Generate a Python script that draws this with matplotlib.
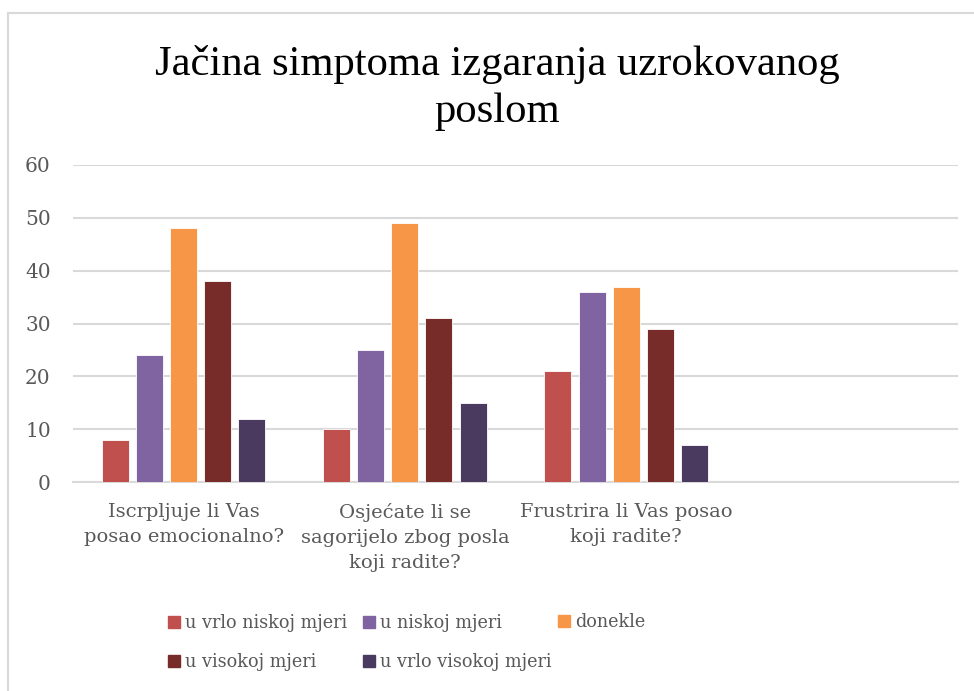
import numpy as np
import matplotlib.pyplot as plt
from matplotlib.lines import Line2D

# chart data
questions = ["Iscrpljuje li Vas\nposao emocionalno?",
             "Osjećate li se\nsagorijelo zbog posla\nkoji radite?",
             "Frustrira li Vas posao\nkoji radite?",
             ""]
levels = ["u vrlo niskoj mjeri", "u niskoj mjeri", "donekle",
          "u visokoj mjeri", "u vrlo visokoj mjeri"]
vrlo_nisko = [8, 10, 21]
nisko = [24, 25, 36]
donekle = [48, 49, 37]
visoko = [38, 31, 29]
vrlo_visoko = [12, 15, 7]
series = [vrlo_nisko, nisko, donekle, visoko, vrlo_visoko]
colors = ["#C0504D", "#8064A2", "#F79646", "#772C2A", "#4B3A60"]

text_color = "#595959"
label_font = "DejaVu Serif"

fig = plt.figure(figsize=(9.74, 6.91), dpi=100)
ax = fig.add_axes([73 / 974, 1 - 482 / 691, 885 / 974, 317 / 691])

x = np.arange(len(questions))
pitch = 0.154
width = 0.122
for i, (vals, col) in enumerate(zip(series, colors)):
    pos = x[:len(vals)] + (i - 2) * pitch
    ax.bar(pos, vals, width=width, color=col, edgecolor="white",
           linewidth=0.6, label=levels[i], zorder=3)

ax.set_xlim(-0.5, len(questions) - 0.5)
ax.set_ylim(0, 60)
ax.set_yticks(range(0, 61, 10))
ax.grid(axis="y", color="#D9D9D9", linewidth=1.5, zorder=0)
for s in ["top", "right", "left"]:
    ax.spines[s].set_visible(False)
ax.spines["bottom"].set_color("#D9D9D9")
ax.spines["bottom"].set_linewidth(1.5)
ax.tick_params(length=0)
ax.tick_params(axis="y", pad=16)
ax.tick_params(axis="x", pad=15)
ax.set_xticks(x)
ax.set_xticklabels(questions, fontsize=14, color=text_color,
                   family=label_font, linespacing=1.5)
for lab in ax.get_yticklabels():
    lab.set_fontsize(14.5)
    lab.set_color(text_color)
    lab.set_family(label_font)

fig.text(497 / 974, 1 - 88 / 691, "Jačina simptoma izgaranja uzrokovanog\nposlom",
         ha="center", va="center", fontsize=30.7, family="Liberation Serif",
         linespacing=1.3)

# legend: Excel-style fixed columns, filled row by row
leg_rows = [[0, 3], [1, 4], [2]]
leg_x = [168, 363, 558]
for col_items, lx in zip(leg_rows, leg_x):
    handles = [Line2D([0], [0], marker="s", linestyle="", markersize=8,
                      markerfacecolor=colors[k], markeredgecolor=colors[k])
               for k in col_items]
    cy = 622 if len(col_items) == 1 else (622 + 663) / 2
    leg = fig.legend(handles, [levels[k] for k in col_items],
                     loc="center left", bbox_to_anchor=(lx / 974, 1 - cy / 691),
                     frameon=False, handletextpad=0.3, handlelength=0.65,
                     labelspacing=1.2, borderpad=0, borderaxespad=0,
                     prop={"family": label_font, "size": 12.7})
    for t in leg.get_texts():
        t.set_color(text_color)

# chart border
fig.add_artist(Line2D([8 / 974, 1], [1 - 13 / 691] * 2, color="#D9D9D9",
                      linewidth=1.5, transform=fig.transFigure))
fig.add_artist(Line2D([8 / 974] * 2, [0, 1 - 13 / 691], color="#D9D9D9",
                      linewidth=1.5, transform=fig.transFigure))

plt.savefig("out.png", dpi=100)
